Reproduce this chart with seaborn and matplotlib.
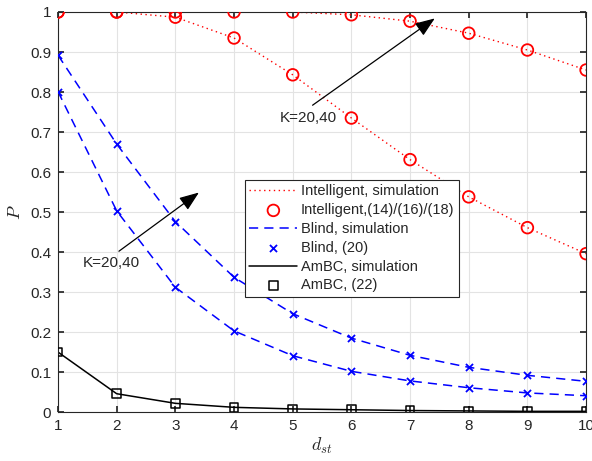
import numpy as np
import pandas as pd
import matplotlib
matplotlib.use("Agg")
import matplotlib.pyplot as plt
import seaborn as sns

d_st = [1, 2, 3, 4, 5, 6, 7, 8, 9, 10]
intel_k40 = [1.0, 1.0, 1.0, 1.0, 1.0, 0.993, 0.977, 0.947, 0.905, 0.855]
intel_k20 = [1.0, 1.0, 0.987, 0.935, 0.843, 0.735, 0.631, 0.538, 0.461, 0.396]
blind_k40 = [0.892, 0.670, 0.476, 0.337, 0.246, 0.185, 0.142, 0.112, 0.092, 0.077]
blind_k20 = [0.801, 0.503, 0.312, 0.203, 0.141, 0.102, 0.078, 0.061, 0.048, 0.041]
ambc = [0.150, 0.046, 0.022, 0.012, 0.008, 0.006, 0.004, 0.003, 0.002, 0.002]

sns.set_theme(style="whitegrid")
plt.rcParams['font.family'] = ['Liberation Sans', 'DejaVu Sans']
plt.rcParams['mathtext.fontset'] = 'cm'

fig = plt.figure(figsize=(5.92, 4.61), dpi=100)
ax = fig.add_axes([0.098, 0.106, 0.892, 0.868])

df = pd.DataFrame({"d": d_st, "i40": intel_k40, "i20": intel_k20,
                   "b40": blind_k40, "b20": blind_k20, "a": ambc})

red = "#ff0000"
blue = "#0000ff"

sns.lineplot(data=df, x="d", y="i40", ax=ax, color=red, linestyle=(0, (1, 2.5)), lw=1.0,
             label="Intelligent, simulation")
sns.lineplot(data=df, x="d", y="i20", ax=ax, color=red, linestyle=(0, (1, 2.5)), lw=1.0)
sns.scatterplot(data=df, x="d", y="i40", ax=ax, marker="o", s=70, facecolors="none",
                edgecolor=red, linewidth=1.3, label="Intelligent,(14)/(16)/(18)", zorder=3)
sns.scatterplot(data=df, x="d", y="i20", ax=ax, marker="o", s=70, facecolors="none",
                edgecolor=red, linewidth=1.3, zorder=3)
sns.lineplot(data=df, x="d", y="b40", ax=ax, color=blue, linestyle=(0, (6, 4)), lw=1.1,
             label="Blind, simulation")
sns.lineplot(data=df, x="d", y="b20", ax=ax, color=blue, linestyle=(0, (6, 4)), lw=1.1)
sns.scatterplot(data=df, x="d", y="b40", ax=ax, marker="x", s=26, color=blue,
                linewidth=1.3, label="Blind, (20)", zorder=3)
sns.scatterplot(data=df, x="d", y="b20", ax=ax, marker="x", s=26, color=blue,
                linewidth=1.3, zorder=3)
sns.lineplot(data=df, x="d", y="a", ax=ax, color="black", lw=1.1, label="AmBC, simulation")
sns.scatterplot(data=df, x="d", y="a", ax=ax, marker="s", s=38, facecolors="none",
                edgecolor="black", linewidth=1.1, label="AmBC, (22)", zorder=3)

ax.set_xlim(1, 10)
ax.set_ylim(0, 1)
ax.set_xticks(d_st)
ax.set_xticklabels([str(v) for v in d_st])
yt = [0, 0.1, 0.2, 0.3, 0.4, 0.5, 0.6, 0.7, 0.8, 0.9, 1]
ax.set_yticks(yt)
ax.set_yticklabels(["0", "0.1", "0.2", "0.3", "0.4", "0.5", "0.6", "0.7", "0.8", "0.9", "1"])
ax.set_xlabel("$d_{st}$", fontsize=13, labelpad=2)
ax.set_ylabel("$P$", fontsize=13, labelpad=4)
ax.tick_params(axis="both", which="both", direction="in", length=4, labelsize=11,
               colors="#262626", top=True, right=True, bottom=True, left=True, pad=5)
ax.grid(True, color="#e3e3e3", linewidth=0.8)
ax.set_facecolor("white")
for s in ax.spines.values():
    s.set_color("#262626")
    s.set_linewidth(0.8)

ax.annotate("", xy=(7.46, 0.988), xytext=(5.30, 0.763),
            arrowprops=dict(arrowstyle="-|>,head_length=1.0,head_width=0.38", color="black", lw=0.9))
ax.text(5.27, 0.736, "K=20,40", fontsize=11, ha="center", va="center")
ax.annotate("", xy=(3.44, 0.553), xytext=(2.0, 0.398),
            arrowprops=dict(arrowstyle="-|>,head_length=1.0,head_width=0.38", color="black", lw=0.9))
ax.text(1.915, 0.372, "K=20,40", fontsize=11, ha="center", va="center")

leg = ax.legend(loc="upper left", bbox_to_anchor=(0.354, 0.58), fontsize=10.5,
                frameon=True, fancybox=False, edgecolor="#262626", framealpha=1,
                borderpad=0.3, labelspacing=0.33, handlelength=3.3, handletextpad=0.25,
                borderaxespad=0)
leg.get_frame().set_linewidth(0.8)

fig.savefig("out.png", dpi=100)
